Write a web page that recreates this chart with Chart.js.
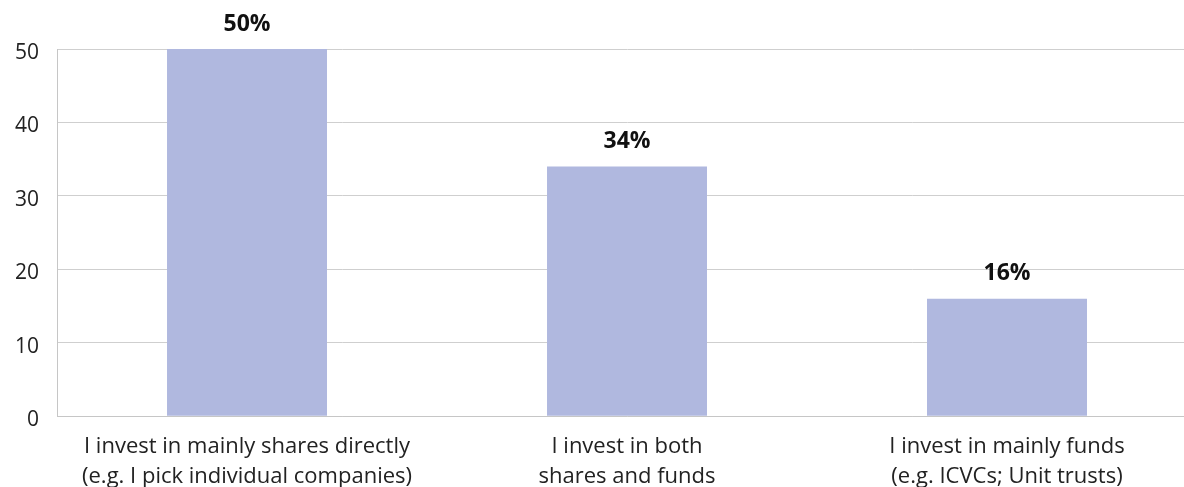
<!DOCTYPE html>
<html>
<head>
<meta charset="utf-8">
<script src="https://cdn.jsdelivr.net/npm/chart.js@4/dist/chart.umd.min.js"></script>
<style>
  html, body { margin: 0; padding: 0; background: #fff; overflow: hidden; }
  #wrap { width: 1200px; height: 487px; }
</style>
</head>
<body>
<div id="wrap"><canvas id="investChart" width="1200" height="487"></canvas></div>
<script>
const categories = [
    ["I invest in mainly shares directly", "(e.g. I pick individual companies)"],
    ["I invest in both", "shares and funds"],
    ["I invest in mainly funds", "(e.g. ICVCs; Unit trusts)"],
]
const shares = [50, 34, 16]
const valueLabels = ["50%", "34%", "16%"]
const yTicks = [0, 10, 20, 30, 40, 50]

const FONT = "'Open Sans', 'Noto Sans', sans-serif"

// writes the percent label above each bar
const barLabels = {
    id: "barLabels",
    afterDatasetsDraw(chart) {
        let c = chart.ctx
        let meta = chart.getDatasetMeta(0)
        c.save()
        c.font = "bold 23px " + FONT
        c.fillStyle = "#111"
        c.textAlign = "center"
        c.textBaseline = "middle"
        meta.data.forEach((bar, i) => {
            c.fillText(valueLabels[i], bar.x, bar.y - 25)
        })
        c.restore()
    },
}

let ctx = document.getElementById("investChart").getContext("2d")
new Chart(ctx, {
    type: "bar",
    data: {
        labels: categories,
        datasets: [
            {
                label: "Share of investors",
                data: shares,
                backgroundColor: "#b0b8df",
                barPercentage: 0.421,
                categoryPercentage: 1,
            },
        ],
    },
    plugins: [barLabels],
    options: {
        responsive: false,
        animation: false,
        layout: { padding: { left: -3, right: 3, top: 49, bottom: -21 } },
        plugins: {
            legend: { display: false },
            tooltip: { enabled: false },
        },
        scales: {
            x: {
                grid: { display: false, drawTicks: false },
                border: { color: "#c6c6c6", width: 1 },
                ticks: {
                    color: "#222",
                    font: { family: FONT, size: 22, lineHeight: 1.36 },
                    padding: 16,
                    maxRotation: 0,
                },
            },
            y: {
                min: 0,
                max: 50,
                afterBuildTicks(axis) {
                    axis.ticks = yTicks.map(v => ({ value: v }))
                },
                grid: { color: "#cfcfcf", drawTicks: false },
                border: { color: "#c6c6c6", width: 1 },
                ticks: {
                    color: "#222",
                    font: { family: FONT, size: 21 },
                    padding: 18,
                    labelOffset: 4,
                },
            },
        },
    },
})
</script>
</body>
</html>
